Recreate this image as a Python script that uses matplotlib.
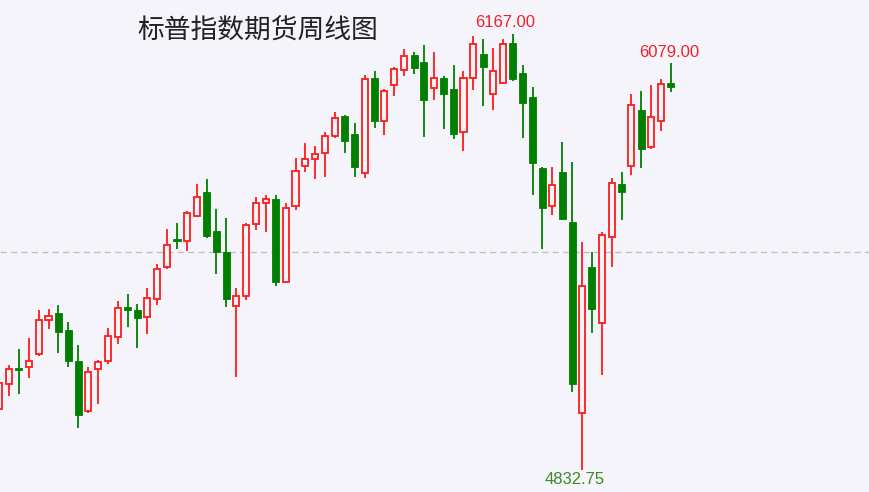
import numpy as np
import matplotlib.pyplot as plt

plt.rcParams['font.family'] = ['Noto Sans CJK SC', 'DejaVu Sans']

# weekly S&P futures candles (open, high, low, close)
opens = [5019, 5096, 5145, 5148, 5188, 5292, 5313, 5261, 5166, 5013,
         5142, 5166, 5240, 5332, 5322, 5301, 5356, 5454, 5540, 5534,
         5610, 5683, 5564, 5500, 5335, 5365, 5586, 5650, 5662, 5408,
         5641, 5763, 5784, 5803, 5855, 5916, 5861, 5742, 6032, 5901,
         6011, 6057, 6103, 6081, 6002, 6032, 5999, 5867, 6032, 6106,
         5983, 6017, 6139, 6048, 5974, 5757, 5641, 5745, 5592, 5007,
         5454, 5283, 5546, 5708, 5763, 5934, 5821, 5901, 6017]
highs = [5108, 5154, 5203, 5237, 5322, 5325, 5338, 5286, 5215, 5148,
         5169, 5267, 5350, 5371, 5341, 5390, 5463, 5570, 5589, 5625,
         5708, 5723, 5631, 5604, 5390, 5589, 5668, 5674, 5674, 5650,
         5788, 5833, 5824, 5867, 5928, 5919, 5895, 6042, 6054, 5999,
         6066, 6121, 6112, 6133, 6112, 6038, 6072, 6054, 6161, 6152,
         6124, 6152, 6167, 6072, 6005, 5760, 5760, 5837, 5775, 5530,
         5500, 5561, 5726, 5745, 5983, 5993, 6011, 6029, 6079]
lows = [5013, 5059, 5065, 5114, 5182, 5264, 5191, 5148, 4961, 5007,
        5035, 5157, 5218, 5270, 5206, 5249, 5338, 5448, 5509, 5503,
        5607, 5543, 5433, 5332, 5117, 5353, 5567, 5561, 5396, 5405,
        5628, 5745, 5723, 5729, 5849, 5803, 5729, 5726, 5879, 5858,
        5977, 6038, 6045, 5852, 5965, 5876, 5846, 5809, 5996, 5947,
        5934, 6014, 6023, 5849, 5674, 5509, 5613, 5598, 5071, 4832.75,
        5252, 5123, 5454, 5598, 5736, 5757, 5815, 5870, 5990]
closes = [5099, 5142, 5139, 5166, 5292, 5304, 5255, 5166, 5001, 5133,
          5163, 5243, 5329, 5322, 5298, 5359, 5448, 5521, 5534, 5619,
          5668, 5549, 5500, 5356, 5365, 5583, 5650, 5662, 5408, 5635,
          5748, 5784, 5800, 5855, 5910, 5840, 5760, 6029, 5901, 5993,
          6060, 6100, 6063, 5965, 6032, 5983, 5861, 6032, 6136, 6066,
          6054, 6136, 6029, 5956, 5772, 5635, 5705, 5601, 5096, 5396,
          5325, 5552, 5711, 5683, 5950, 5815, 5913, 6014, 6005]
ref_level = 5500
title = '标普指数期货周线图'

bg = '#f5f4fa'
up_color = '#ff1a1a'
down_color = '#007f00'

fig = plt.figure(figsize=(8.7, 4.92), dpi=100, facecolor=bg)
ax = fig.add_axes([0, 0, 1, 1])
ax.set_facecolor(bg)

x = np.arange(len(opens))
o = np.array(opens, dtype=float)
h = np.array(highs, dtype=float)
l = np.array(lows, dtype=float)
c = np.array(closes, dtype=float)
up = c > o

ax.axhline(ref_level, color='#c0c0c0', lw=1, dashes=(4.5, 3), zorder=1)

ax.vlines(x[up], l[up], h[up], color=up_color, lw=1.3, zorder=2)
ax.vlines(x[~up], l[~up], h[~up], color=down_color, lw=1.3, zorder=2)

body_lo = np.minimum(o, c)
body_h = np.maximum(np.abs(c - o), 2.5)
ax.bar(x[up], body_h[up], bottom=body_lo[up], width=0.62, facecolor=bg,
       edgecolor=up_color, linewidth=1.3, zorder=3)
ax.bar(x[~up], body_h[~up], bottom=body_lo[~up], width=0.72,
       facecolor=down_color, edgecolor=down_color, linewidth=0.6, zorder=3)

# high / low labels
i_max = int(np.argmax(h))
i_min = int(np.argmin(l))
i_last = len(h) - 1
lab_font = dict(family=['Liberation Sans', 'DejaVu Sans'], fontsize=12)
ax.annotate(f'{h[i_max]:.2f}', (x[i_max], h[i_max]), xytext=(-8, 12),
            textcoords='offset pixels', ha='center', va='center',
            color='#f0202a', **lab_font)
ax.annotate(f'{h[i_last]:.2f}', (x[i_last], h[i_last]), xytext=(-2, 10),
            textcoords='offset pixels', ha='center', va='center',
            color='#f0202a', **lab_font)
ax.annotate(f'{l[i_min]:.2f}', (x[i_min], l[i_min]), xytext=(-7, -10),
            textcoords='offset pixels', ha='center', va='center',
            color='#3a8a28', **lab_font)

ax.text(0.2966, 0.937, title, transform=ax.transAxes, ha='center',
        va='center', fontsize=19.3, color='#222222')

ax.set_xlim(0.089, 88.15)
ax.set_ylim(4765.4, 6271.05)
ax.axis('off')

fig.savefig('out.png', dpi=100, facecolor=bg)
